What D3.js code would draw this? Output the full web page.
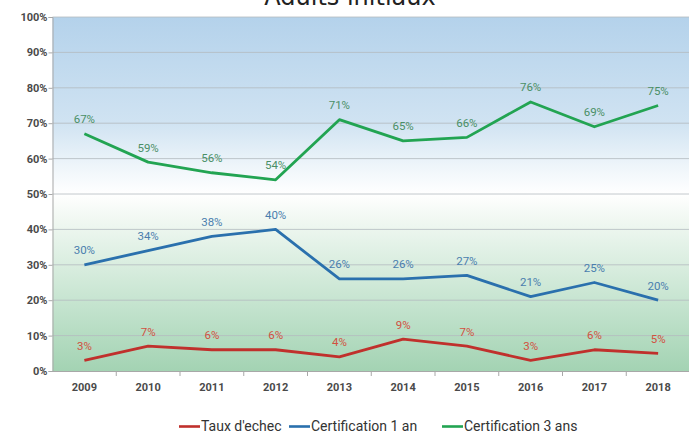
<!DOCTYPE html>
<html><head><meta charset="utf-8">
<script src="https://cdn.jsdelivr.net/npm/d3@7"></script>
<style>html,body{margin:0;padding:0;background:#fff;overflow:hidden}</style>
</head><body>
<svg id="c" width="689" height="434"></svg>
<script>
const years = ["2009","2010","2011","2012","2013","2014","2015","2016","2017","2018"];
const tauxEchec = [3,7,6,6,4,9,7,3,6,5];
const cert1an = [30,34,38,40,26,26,27,21,25,20];
const cert3ans = [67,59,56,54,71,65,66,76,69,75];
const yTicks = [0,10,20,30,40,50,60,70,80,90,100];
const seriesNames = ["Taux d'echec","Certification 1 an","Certification 3 ans"];
const title = "Adults initiaux";

const series = [
  {name: seriesNames[0], values: tauxEchec, color: "#c0302c", label: "#d2503f"},
  {name: seriesNames[1], values: cert1an, color: "#2a70ad", label: "#4a7eae"},
  {name: seriesNames[2], values: cert3ans, color: "#22a452", label: "#4a8f66"}
];

const svg = d3.select("#c");
const W = 689, H = 434;
const m = {left: 52.5, right: 0, top: 17, bottom: 63};
const x = d3.scaleBand().domain(years).range([m.left, W + 1]);
const y = d3.scaleLinear().domain([0,100]).range([H - m.bottom, m.top]);

const defs = svg.append("defs");
const g1 = defs.append("linearGradient").attr("id","bg").attr("x1",0).attr("y1",0).attr("x2",0).attr("y2",1);
[[0,"#b4d2eb"],[0.3,"#d0e3f2"],[0.42,"#eef5fa"],[0.5,"#ffffff"],[0.56,"#f3f9f4"],[0.75,"#d0e9d8"],[1,"#a3d3b3"]]
  .forEach(([o,c]) => g1.append("stop").attr("offset",o).attr("stop-color",c));

svg.append("rect").attr("x", m.left).attr("y", y(100)).attr("width", W - m.left).attr("height", y(0) - y(100)).attr("fill","url(#bg)");

// gridlines
svg.append("g").selectAll("line").data(yTicks.filter(t => t > 0)).join("line")
  .attr("x1", m.left).attr("x2", W).attr("y1", d => y(d)).attr("y2", d => y(d))
  .attr("stroke", "#b4bcc0").attr("stroke-width", 1).attr("opacity", 0.8);

// y axis
const yAxis = d3.axisLeft(y).tickValues(yTicks).tickFormat(d => d + "%").tickSize(4);
const ya = svg.append("g").attr("transform", `translate(${m.left},0)`).call(yAxis);
ya.select(".domain").attr("stroke","#a8a8a8");
ya.selectAll(".tick line").attr("stroke","#a8a8a8");
ya.selectAll("text").attr("font-family","Roboto, sans-serif").attr("font-size", 11).attr("fill","#4a4a4a").attr("font-weight","bold").attr("x", -5);

// x axis
const xa = svg.append("g").attr("transform", `translate(0,${y(0)})`).call(d3.axisBottom(x).tickSize(0).tickPadding(12));
xa.select(".domain").attr("stroke","#a8a8a8");
xa.selectAll("text").attr("font-family","Roboto, sans-serif").attr("font-size", 11).attr("fill","#4a4a4a").attr("font-weight","bold");
xa.append("g").selectAll("line").data(years.slice(1)).join("line")
  .attr("x1", d => x(d)).attr("x2", d => x(d)).attr("y1", 0).attr("y2", 5).attr("stroke","#a8a8a8");

// lines
const line = d3.line().x((d,i) => x(years[i]) + x.bandwidth()/2).y(d => y(d));
series.forEach(s => {
  svg.append("path").datum(s.values).attr("d", line).attr("fill","none")
    .attr("stroke", s.color).attr("stroke-width", 2.8).attr("stroke-linejoin","round");
  svg.append("g").selectAll("text").data(s.values).join("text")
    .attr("x", (d,i) => x(years[i]) + x.bandwidth()/2)
    .attr("y", d => y(d) - 10.5)
    .attr("text-anchor","middle")
    .attr("font-family","Roboto, sans-serif")
    .attr("font-size", 11.5).attr("fill", s.label)
    .text(d => d + "%");
});

// title (cut off at the top edge, as in the reference)
svg.append("text").attr("x", 350).attr("y", 5).attr("text-anchor","middle")
  .attr("font-family","'DejaVu Sans', sans-serif").attr("font-size", 24).attr("fill","#222")
  .text(title);

// legend
const leg = svg.append("g").attr("transform","translate(179,431)");
const legX = [0, 110, 263];
series.forEach((s,i) => {
  const gg = leg.append("g").attr("transform", `translate(${legX[i]},0)`);
  gg.append("line").attr("x1",0).attr("x2",21).attr("y1",-4.5).attr("y2",-4.5).attr("stroke", s.color).attr("stroke-width",2.6);
  gg.append("text").attr("x",22).attr("y",0).attr("font-family","Roboto, sans-serif")
    .attr("font-size",14).attr("fill","#333").text(s.name);
});
</script>
</body></html>
